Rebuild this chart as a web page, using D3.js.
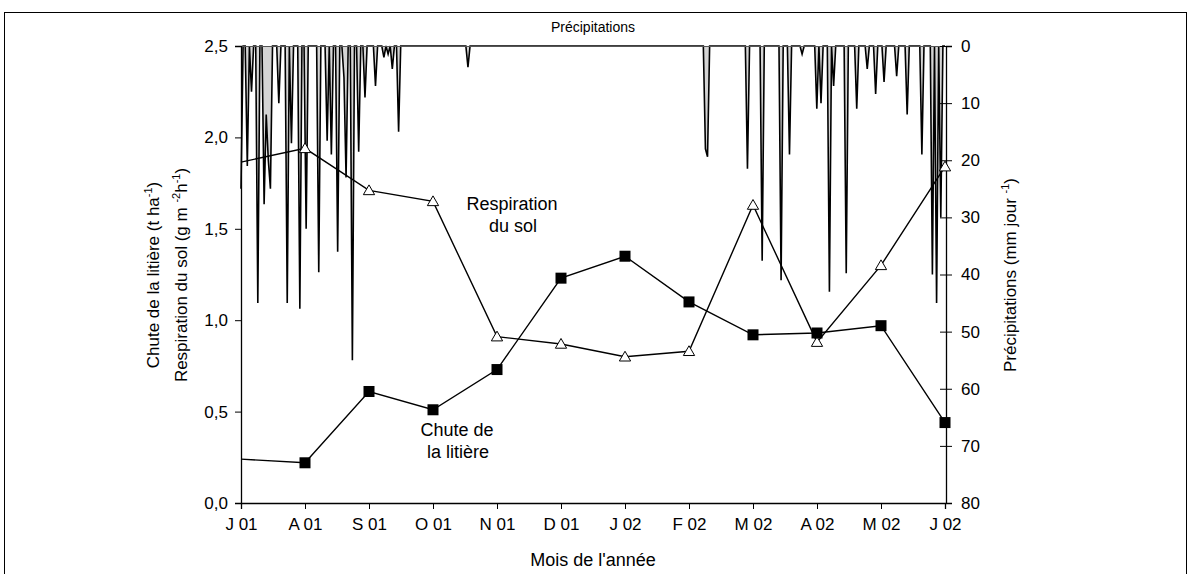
<!DOCTYPE html>
<html><head><meta charset="utf-8">
<script src="https://cdn.jsdelivr.net/npm/d3@7"></script>
<style>body{margin:0;background:#fff}svg{display:block}text{font-family:"Liberation Sans",Arial,sans-serif;fill:#000}</style>
</head><body><svg id="c" width="1188" height="574"></svg>
<script>
const months = ["J 01","A 01","S 01","O 01","N 01","D 01","J 02","F 02","M 02","A 02","M 02","J 02"];
const respiration = [1.865,1.94,1.71,1.65,0.91,0.87,0.80,0.83,1.63,0.88,1.30,1.84];
const litiere = [0.24,0.22,0.61,0.51,0.73,1.23,1.35,1.10,0.92,0.93,0.97,0.44];
const leftTicks = [0,0.5,1,1.5,2,2.5];
const rightTicks = [0,10,20,30,40,50,60,70,80];
// daily precipitation (mm) : day index from 1 July 2001, value
const rainDays = [0,3,5,8,11,12,13,14,18,22,24,28,31,37,41,43,46,49,50,53,56,59,64,68,70,72,75,108,
  221,222,241,248,257,261,267,274,276,280,282,288,293,298,302,306,312,317,324,329,331,333];
const rainMm = [25,21,8,45,27.7,12,20,25,10,45,17,46,32,39.6,16.6,19,36,5.5,23,55,18.5,9,7,2,1.4,4,15,3.7,
  18,19.4,21.5,37.6,41,19,1.4,11,10,43,7,39.8,11,4,8.4,6.3,5.3,12,19,40,45,30];
const nDays = 335;

const svg = d3.select("#c");
const L=241, R=945, T=46, B=503;
const x = d3.scaleLinear().domain([0,11]).range([L,R]);
const xd = d3.scaleLinear().domain([0,nDays]).range([L,R]);
const y = d3.scaleLinear().domain([0,2.5]).range([B,T]);
const yr = d3.scaleLinear().domain([0,80]).range([T,B]);
const fmt = d3.format(".1f");

// outer frame
svg.append("rect").attr("x",4.5).attr("y",12.5).attr("width",1182).attr("height",600)
  .attr("fill","none").attr("stroke","#000").attr("stroke-width",1);

// precipitation area
const daily = d3.range(nDays+1).map(d=>0);
rainDays.forEach((d,i)=>{daily[d]=rainMm[i];});
const pts = daily.map((v,i)=>[i,v]);
svg.append("path").datum(pts)
  .attr("d", d3.area().x(d=>xd(d[0])).y0(yr(0)).y1(d=>yr(d[1])))
  .attr("fill","#d4d4d4").attr("stroke","none");
svg.append("path").datum(pts)
  .attr("d", d3.line().x(d=>xd(d[0])).y(d=>yr(d[1])))
  .attr("fill","none").attr("stroke","#000").attr("stroke-width",1.6);
svg.append("line").attr("x1",L).attr("x2",R).attr("y1",T+0.5).attr("y2",T+0.5)
  .attr("stroke","#555").attr("stroke-width",1.2);

// axes
const fs = "17px", fs2 = "18px";
const gl = svg.append("g").attr("transform",`translate(${L},0)`)
  .call(d3.axisLeft(y).tickValues(leftTicks).tickFormat(d=>fmt(d).replace(".",",")).tickSize(6).tickPadding(7));
const gr = svg.append("g").attr("transform",`translate(${R+1},0)`)
  .call(d3.axisRight(yr).tickValues(rightTicks).tickSize(6).tickPadding(9));
gr.selectAll(".tick line").attr("x1",-6);
const gb = svg.append("g").attr("transform",`translate(0,${B})`)
  .call(d3.axisBottom(x).tickValues(d3.range(12)).tickFormat(i=>months[i]).tickSize(6).tickPadding(9));
[gl,gr,gb].forEach(g=>{
  g.select(".domain").attr("stroke","#000").attr("stroke-width",1.3);
  g.selectAll(".tick line").attr("stroke","#000");
  g.selectAll(".tick text").attr("font-size",fs).attr("font-family","Liberation Sans, Arial").attr("fill","#000");
});

// series lines
const line = d3.line().x((d,i)=>x(i)).y(d=>y(d));
svg.append("path").datum(respiration).attr("d",line).attr("fill","none").attr("stroke","#000").attr("stroke-width",1.4);
svg.append("path").datum(litiere).attr("d",line).attr("fill","none").attr("stroke","#000").attr("stroke-width",1.4);
const tri = d3.symbol().type(d3.symbolTriangle).size(55);
svg.selectAll(".tri").data(respiration.slice(1)).enter().append("path")
  .attr("transform",(d,i)=>`translate(${x(i+1)},${y(d)+1})`).attr("d",tri)
  .attr("fill","#fff").attr("stroke","#000").attr("stroke-width",1);
svg.selectAll(".sq").data(litiere.slice(1)).enter().append("rect")
  .attr("x",(d,i)=>x(i+1)-5.5).attr("y",d=>y(d)-5.5).attr("width",11).attr("height",11).attr("fill","#000");

// texts
function t(xp,yp,s,size=fs2){return svg.append("text").attr("x",xp).attr("y",yp).attr("text-anchor","middle").attr("font-size",size).text(s);}
t(593,32,"Précipitations","14px");
t(593,566,"Mois de l'année");
t(512,210,"Respiration");
t(513,232,"du sol");
t(457,436,"Chute de");
t(458,458,"la litière");

function sup(el,pre,s,post){
  el.append("tspan").text(pre);
  el.append("tspan").attr("dy",-7).attr("font-size","11px").text(s);
  el.append("tspan").attr("dy",7).text(post);
}
const lt1 = svg.append("text").attr("transform","translate(159,275) rotate(-90)").attr("text-anchor","middle").attr("font-size",fs);
sup(lt1,"Chute de la litière (t ha","-1",")");
const lt2 = svg.append("text").attr("transform","translate(187,275) rotate(-90)").attr("text-anchor","middle").attr("font-size",fs);
lt2.append("tspan").text("Respiration du sol (g m ");
lt2.append("tspan").attr("dy",-7).attr("font-size","11px").text("-2");
lt2.append("tspan").attr("dy",7).text("h");
lt2.append("tspan").attr("dy",-7).attr("font-size","11px").text("-1");
lt2.append("tspan").attr("dy",7).text(")");
const rt = svg.append("text").attr("transform","translate(1016,275) rotate(-90)").attr("text-anchor","middle").attr("font-size",fs);
sup(rt,"Précipitations (mm jour ","-1",")");
</script></body></html>
